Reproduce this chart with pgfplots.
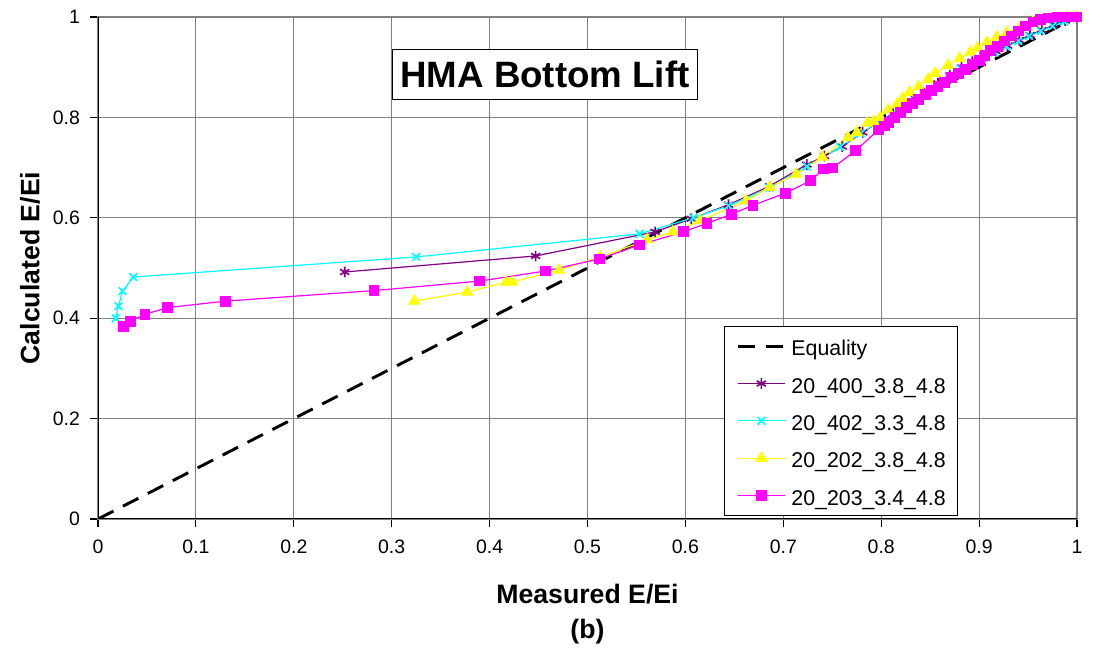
\documentclass[border=0pt]{standalone}
\usepackage{pgfplots}
\pgfplotsset{compat=1.18}
\usepackage{fontspec}
\setmainfont{Liberation Sans}
\definecolor{cpurple}{RGB}{128,0,128}
\definecolor{ccyan}{RGB}{0,255,255}
\definecolor{cyellow}{RGB}{255,255,0}
\definecolor{cmagenta}{RGB}{255,0,255}
\begin{document}
\begin{tikzpicture}
\path[use as bounding box] (-73.5pt,-96.75pt) rectangle (747pt,389.25pt);
\begin{axis}[
  at={(0,0)}, anchor=south west,
  width=734.25pt, height=376.5pt, scale only axis,
  xmin=0, xmax=1, ymin=0, ymax=1,
  xtick={0,0.1,0.2,0.3,0.4,0.5,0.6,0.7,0.8,0.9,1},
  xticklabels={0,0.1,0.2,0.3,0.4,0.5,0.6,0.7,0.8,0.9,1},
  ytick={0,0.2,0.4,0.6,0.8,1},
  yticklabels={0,0.2,0.4,0.6,0.8,1},
  tick align=outside, major tick length=6pt,
  tick style={black, line width=0.8pt},
  xtick pos=bottom, ytick pos=left,
  grid=major,
  major grid style={gray, line width=0.8pt},
  axis line style={gray, line width=0.8pt},
  tick label style={font=\fontsize{14.6}{17}\selectfont},
  xticklabel style={yshift=-6pt},
  yticklabel style={xshift=-4pt},
  xlabel={Measured E/Ei\\(b)},
  ylabel={Calculated E/Ei},
  label style={font=\fontsize{20}{26.25}\selectfont\bfseries},
  xlabel style={at={(axis description cs:0.5,-0.1902)}, anchor=center, align=center},
  ylabel style={at={(axis description cs:-0.0695,0.5)}, anchor=center},
  legend style={at={(0.6394,0.3845)}, anchor=north west, draw=black, line width=0.8pt,
    fill=white, font=\fontsize{16}{19}\selectfont,
    nodes={inner sep=0pt, text height=15pt, text depth=0.5pt},
    row sep=12.5pt, column sep=4pt, inner xsep=9pt, inner ysep=7pt},
  legend cell align=left,
  legend image code/.code={\draw[mark repeat=2,mark phase=2,#1] plot coordinates {(0pt,0pt) (17.5pt,0pt) (35pt,0pt)};},
  every axis plot/.append style={line width=0.9pt},
]
\addplot[black, line width=2.2pt, dash pattern=on 13pt off 8pt] coordinates {(0,0) (1,1)};
\addlegendentry{Equality}
\addplot[cpurple, mark=asterisk, mark size=4pt, mark options={solid, line width=1.2pt}] coordinates {
(0.252,0.492) (0.447,0.524) (0.569,0.572) (0.606,0.598) (0.644,0.626) (0.686,0.663)
(0.724,0.706) (0.742,0.723) (0.760,0.742) (0.781,0.770) (0.801,0.795) (0.812,0.807)
(0.823,0.820) (0.835,0.836) (0.847,0.853) (0.858,0.868) (0.870,0.884) (0.882,0.900)
(0.893,0.911) (0.905,0.921) (0.917,0.932) (0.929,0.943) (0.941,0.954) (0.952,0.964)
(0.964,0.974) (0.976,0.984) (0.988,0.993) (1.000,1.000)};
\addlegendentry{20\_400\_3.8\_4.8}
\addplot[ccyan, mark=x, mark size=4pt, mark options={solid, line width=1.3pt}] coordinates {
(0.018,0.400) (0.021,0.424) (0.025,0.454) (0.036,0.482) (0.325,0.522) (0.553,0.568)
(0.608,0.600) (0.644,0.624) (0.686,0.660) (0.724,0.702) (0.758,0.741) (0.779,0.768)
(0.799,0.793) (0.811,0.805) (0.822,0.817) (0.834,0.832) (0.846,0.850) (0.857,0.865)
(0.869,0.881) (0.881,0.897) (0.892,0.908) (0.904,0.918) (0.916,0.929) (0.928,0.941)
(0.940,0.952) (0.951,0.962) (0.963,0.972) (0.975,0.982) (0.987,0.991) (1.000,1.000)};
\addlegendentry{20\_402\_3.3\_4.8}
\addplot[cyellow, mark=triangle*, mark size=4.5pt, mark options={solid}] coordinates {
(0.323,0.434) (0.377,0.452) (0.417,0.472) (0.423,0.472) (0.471,0.496) (0.513,0.522)
(0.561,0.556) (0.587,0.572) (0.615,0.594) (0.662,0.634) (0.686,0.661) (0.713,0.687)
(0.740,0.721) (0.766,0.760) (0.775,0.770) (0.786,0.789) (0.792,0.792) (0.799,0.800)
(0.807,0.815) (0.816,0.826) (0.822,0.838) (0.829,0.850) (0.838,0.861) (0.848,0.876)
(0.855,0.888) (0.868,0.904) (0.880,0.918) (0.891,0.930) (0.898,0.938) (0.908,0.950)
(0.918,0.960) (0.928,0.968) (0.942,0.980) (0.955,0.990) (0.972,0.997) (0.990,1.000)
(1.000,1.000)};
\addlegendentry{20\_202\_3.8\_4.8}
\addplot[cmagenta, mark=square*, mark size=3.6pt, mark options={solid}] coordinates {
(0.026,0.383) (0.033,0.394) (0.048,0.408) (0.071,0.421) (0.130,0.434) (0.282,0.455)
(0.390,0.474) (0.457,0.494) (0.512,0.518) (0.553,0.546) (0.598,0.572) (0.622,0.589)
(0.647,0.607) (0.669,0.625) (0.702,0.649) (0.728,0.674) (0.741,0.697) (0.750,0.699)
(0.774,0.734) (0.797,0.775) (0.803,0.783) (0.808,0.790) (0.814,0.799) (0.820,0.809)
(0.826,0.819) (0.832,0.828) (0.838,0.836) (0.845,0.845) (0.851,0.853) (0.858,0.862)
(0.865,0.870) (0.872,0.879) (0.879,0.888) (0.886,0.896) (0.893,0.905) (0.900,0.914)
(0.906,0.924) (0.912,0.934) (0.919,0.942) (0.926,0.952) (0.933,0.962) (0.940,0.972)
(0.947,0.982) (0.955,0.990) (0.963,0.995) (0.971,0.998) (0.980,1.000) (0.990,1.000)
(1.000,1.000)};
\addlegendentry{20\_203\_3.4\_4.8}
\draw[black, line width=1pt] (axis cs:0,1) -- (axis cs:0,0) -- (axis cs:1,0);
\node[draw=black, line width=0.8pt, fill=white, font=\fontsize{27.5}{32}\selectfont\bfseries,
  inner xsep=6pt, inner ysep=8.5pt] at (axis cs:0.4566,0.8855) {HMA Bottom Lift};
\end{axis}
\end{tikzpicture}
\end{document}
